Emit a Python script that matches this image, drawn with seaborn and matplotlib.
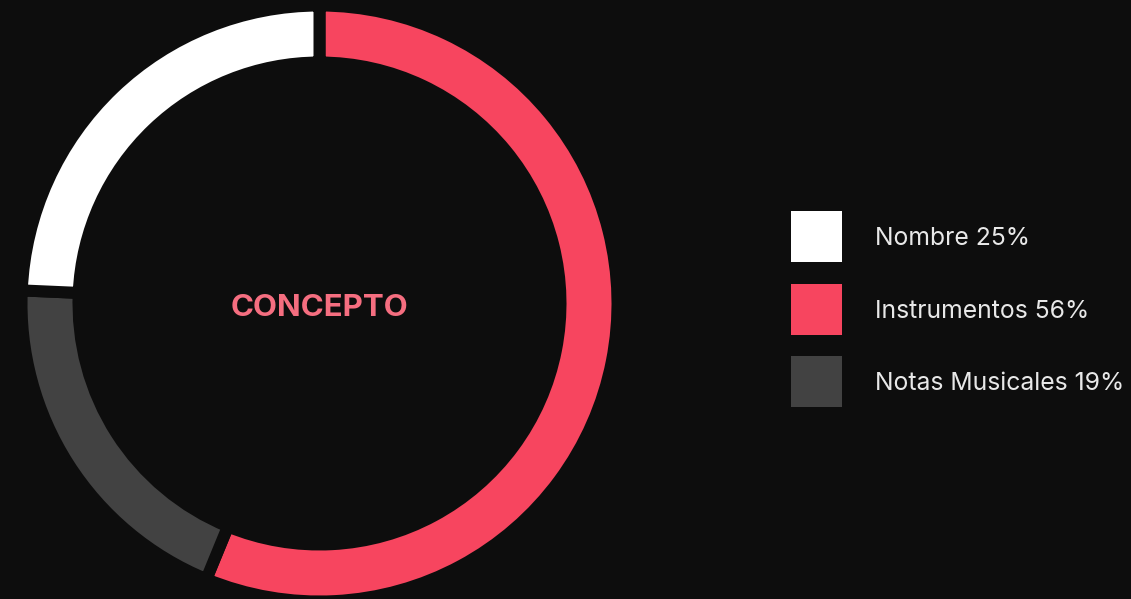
import matplotlib
matplotlib.use("Agg")
import matplotlib.pyplot as plt
from matplotlib.patches import Rectangle
import seaborn as sns

# Data (slice order: clockwise from 12 o'clock)
categories = ["Instrumentos", "Notas Musicales", "Nombre"]
values = [56.2, 19.5, 24.3]
slice_colors = ["#f7455f", "#424242", "#ffffff"]

legend_labels = ["Nombre 25%", "Instrumentos 56%", "Notas Musicales 19%"]
legend_colors = ["#ffffff", "#f7455f", "#424242"]
center_title = "CONCEPTO"

BG = "#0d0d0d"
W, H = 1131, 599

sns.set_theme(style="dark")
plt.rcParams["font.family"] = ["Inter", "DejaVu Sans"]

fig = plt.figure(figsize=(W / 100, H / 100), dpi=100, facecolor=BG)
ax = fig.add_axes([0, 0, 1, 1])
ax.set_facecolor(BG)

gap_px = 12
lw_pt = gap_px * 72 / 100
cx, cy = 319.5, H - 303.5
r_out, r_in = 292, 247

ax.pie(values, colors=slice_colors, startangle=90, counterclock=False,
       center=(cx, cy), radius=r_out + gap_px / 2,
       wedgeprops=dict(width=(r_out - r_in) + gap_px, edgecolor=BG,
                       linewidth=lw_pt, antialiased=True))
ax.set_xlim(0, W)
ax.set_ylim(0, H)
ax.set_aspect("equal")
ax.axis("off")

ax.text(cx + 0.5, H - 316.5, center_title, ha="center", va="baseline",
        fontsize=22.5, fontweight="bold", color="#f56e80")

# Legend
sq = 51
x0 = 791
tops = [211, 283.5, 356]
for lab, col, top in zip(legend_labels, legend_colors, tops):
    ax.add_patch(Rectangle((x0, H - top - sq), sq, sq, facecolor=col,
                           edgecolor="none"))
    ax.text(875, H - (top + 34), lab, ha="left", va="baseline",
            fontsize=17.8, color="#e8e8e8")

fig.savefig("out.png", dpi=100, facecolor=BG)
